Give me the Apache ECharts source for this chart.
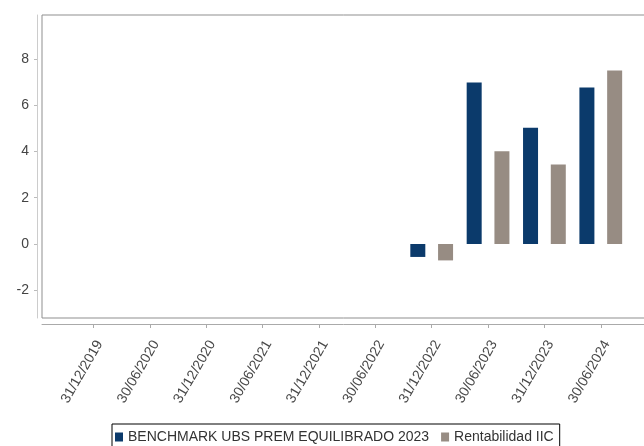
<!DOCTYPE html>
<html>
<head>
<meta charset="utf-8">
<style>
html,body{margin:0;padding:0;background:#fff;}
#chart{width:644px;height:446px;}
</style>
<script src="https://cdn.jsdelivr.net/npm/echarts@6/dist/echarts.min.js"></script>
</head>
<body>
<div id="chart"></div>
<script>
const categories = ['31/12/2019','30/06/2020','31/12/2020','30/06/2021','31/12/2021','30/06/2022','31/12/2022','30/06/2023','31/12/2023','30/06/2024'];
const benchmark = [null, null, null, null, null, null, -0.56, 6.98, 5.03, 6.77];
const rentabilidad = [null, null, null, null, null, null, -0.71, 4.01, 3.44, 7.50];
const yTicks = [-2, 0, 2, 4, 6, 8];
const seriesNames = ['BENCHMARK UBS PREM EQUILIBRADO 2023', 'Rentabilidad IIC'];

const idx = categories.map((c, i) => i);
const toPairs = arr => arr.map((v, i) => [i, v]).filter(p => p[1] !== null);

const chart = echarts.init(document.getElementById('chart'));
chart.setOption({
  animation: false,
  backgroundColor: '#fff',
  textStyle: { fontFamily: 'Liberation Sans, Arial, sans-serif' },
  grid: {
    left: 42, top: 15, right: -15, bottom: 128,
    outerBoundsMode: 'none',
    containLabel: false,
    show: true, borderColor: '#8f8f8f', borderWidth: 1, backgroundColor: '#fff'
  },
  legend: {
    left: 112, top: 424,
    data: seriesNames,
    icon: 'rect', itemWidth: 8, itemHeight: 9, itemGap: 12,
    padding: [6, 6, 6, 3],
    borderColor: '#000', borderWidth: 1,
    textStyle: { fontSize: 14, color: '#333', fontFamily: 'Liberation Sans, Arial, sans-serif' }
  },
  xAxis: {
    type: 'value',
    min: -0.914, max: 10.033,
    offset: 6,
    splitLine: { show: false },
    axisLine: { show: true, onZero: false, lineStyle: { color: '#aaa', width: 1 } },
    axisTick: { show: true, length: 4, lineStyle: { color: '#aaa' }, customValues: idx },
    axisLabel: {
      customValues: idx,
      formatter: v => categories[Math.round(v)] || '',
      rotate: 60, margin: 14, fontSize: 14, color: '#484848',
      verticalAlign: 'top', lineHeight: 14,
      fontFamily: 'Liberation Sans, Arial, sans-serif'
    }
  },
  yAxis: {
    type: 'value',
    min: -3.2, max: 9.9,
    offset: 5,
    splitLine: { show: false },
    axisLine: { show: true, onZero: false, lineStyle: { color: '#ccc', width: 1 } },
    axisTick: { show: true, length: 3, lineStyle: { color: '#bbb' }, customValues: yTicks },
    axisLabel: {
      customValues: yTicks,
      margin: 8, fontSize: 14, color: '#444',
      fontFamily: 'Liberation Sans, Arial, sans-serif'
    }
  },
  series: [
    {
      name: seriesNames[0], type: 'bar',
      data: toPairs(benchmark),
      barWidth: 15, barGap: '85%',
      itemStyle: { color: '#0b3a6b' }
    },
    {
      name: seriesNames[1], type: 'bar',
      data: toPairs(rentabilidad),
      barWidth: 15, barGap: '85%',
      itemStyle: { color: '#978c83' }
    }
  ]
});
</script>
</body>
</html>
